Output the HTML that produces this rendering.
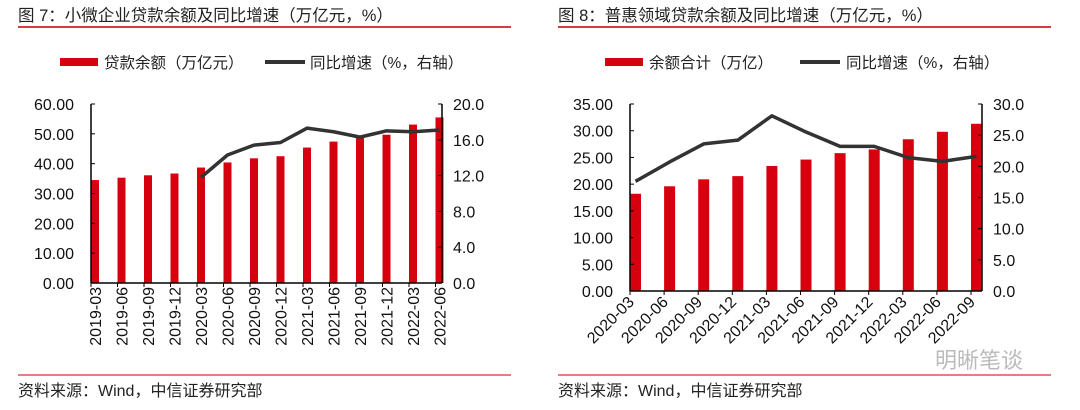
<!DOCTYPE html>
<html><head><meta charset="utf-8">
<style>
body{margin:0;background:#fff;}
svg{display:block;font-family:"Liberation Sans","Noto Sans CJK SC",sans-serif;}
</style></head>
<body>
<svg id="s" width="1080" height="410">
<g>
<text x="18" y="21" font-size="16.5" fill="#222">图 7：小微企业贷款余额及同比增速（万亿元，%）</text>
<line x1="18" y1="27" x2="511" y2="27" stroke="#c00000" stroke-width="1.5"/>
</g>
<g>
<rect x="60" y="58" width="38" height="8" fill="#d7000f"/>
<text x="104" y="68" font-size="15.5" fill="#222">贷款余额（万亿元）</text>
<line x1="265" y1="62" x2="305" y2="62" stroke="#333" stroke-width="4"/>
<text x="310" y="68" font-size="15.5" fill="#222">同比增速（%，右轴）</text>
</g>
<g>
<text x="558" y="21" font-size="16.5" fill="#222">图 8：普惠领域贷款余额及同比增速（万亿元，%）</text>
<line x1="558" y1="27" x2="1051" y2="27" stroke="#c00000" stroke-width="1.5"/>
</g>
<g>
<rect x="605" y="58" width="38" height="8" fill="#d7000f"/>
<text x="649" y="68" font-size="15.5" fill="#222">余额合计（万亿）</text>
<line x1="800" y1="62" x2="840" y2="62" stroke="#333" stroke-width="4"/>
<text x="846" y="68" font-size="15.5" fill="#222">同比增速（%，右轴）</text>
</g>
<g>
<line x1="18" y1="375" x2="511" y2="375" stroke="#c00000" stroke-width="1"/>
<text x="18" y="396" font-size="16" fill="#222">资料来源：Wind，中信证券研究部</text>
<line x1="558" y1="375" x2="1051" y2="375" stroke="#c00000" stroke-width="1"/>
<text x="558" y="396" font-size="16" fill="#222">资料来源：Wind，中信证券研究部</text>
<text x="935" y="368" font-size="22" fill="#bbb">明晰笔谈</text>
</g>
<g id="c1"></g>
<g id="c2"></g>
</svg>
<script>
const cats1=["2019-03","2019-06","2019-09","2019-12","2020-03","2020-06","2020-09","2020-12","2021-03","2021-06","2021-09","2021-12","2022-03","2022-06"];
const bars1=[34.5,35.3,36.1,36.7,38.7,40.4,41.8,42.5,45.4,47.4,48.6,49.7,53.1,55.5];
const line1=[null,null,null,null,11.8,14.3,15.4,15.7,17.3,16.9,16.3,17.0,16.9,17.1];
const leftTicks1=["0.00","10.00","20.00","30.00","40.00","50.00","60.00"];
const rightTicks1=["0.0","4.0","8.0","12.0","16.0","20.0"];
const cats2=["2020-03","2020-06","2020-09","2020-12","2021-03","2021-06","2021-09","2021-12","2022-03","2022-06","2022-09"];
const bars2=[18.2,19.6,20.9,21.5,23.4,24.6,25.8,26.5,28.4,29.8,31.3];
const line2=[17.6,20.7,23.6,24.2,28.1,25.5,23.2,23.2,21.4,20.8,21.6];
const leftTicks2=["0.00","5.00","10.00","15.00","20.00","25.00","30.00","35.00"];
const rightTicks2=["0.0","5.0","10.0","15.0","20.0","25.0","30.0"];
const NS="http://www.w3.org/2000/svg";
function mk(g,t,a){const e=document.createElementNS(NS,t);for(const k in a)e.setAttribute(k,a[k]);g.appendChild(e);return e;}
function draw(g,o){
 const {cats,bars,line,lt,rt,L,R,T,B,lmax,rmax,step,bw,rot}=o;
 const y=v=>B-(v/lmax)*(B-T), yr=v=>B-(v/rmax)*(B-T), xt=i=>L+i*step;
 bars.forEach((v,i)=>{const r=mk(g,'rect',{x:xt(i),y:y(v),width:bw,height:B-y(v),fill:'#d7000f'});
  
  });
 mk(g,'line',{x1:L,y1:T,x2:L,y2:B,stroke:'#000','stroke-width':1.5});
 mk(g,'line',{x1:R,y1:T,x2:R,y2:B,stroke:'#000','stroke-width':1.5});
 mk(g,'line',{x1:L,y1:B,x2:R,y2:B,stroke:'#000','stroke-width':1.5});
 lt.forEach((t,i)=>{const v=i*lmax/(lt.length-1);
  mk(g,'line',{x1:L,y1:y(v),x2:L+4,y2:y(v),stroke:'#000'});
  const e=mk(g,'text',{x:L-17,y:y(v)+6,'font-size':16,'text-anchor':'end',fill:'#111'});e.textContent=t;
  
  });
 rt.forEach((t,i)=>{const v=i*rmax/(rt.length-1);
  mk(g,'line',{x1:R-4,y1:yr(v),x2:R,y2:yr(v),stroke:'#000'});
  const e=mk(g,'text',{x:R+11,y:yr(v)+6,'font-size':16,fill:'#111'});e.textContent=t;
  
  });
 cats.forEach((c,i)=>{mk(g,'line',{x1:xt(i),y1:B,x2:xt(i),y2:B+4,stroke:'#000'});
  const cx=xt(i)+bw/2;let e;
  if(rot==90){e=mk(g,'text',{x:cx+6,y:B+4,'font-size':16,'text-anchor':'end',fill:'#111',transform:`rotate(-90 ${cx+6} ${B+4})`});}
  else{const ax=xt(i)+5,ay=B+12;e=mk(g,'text',{x:ax,y:ay,'font-size':16,'text-anchor':'end',fill:'#111',transform:`rotate(-45 ${ax} ${ay})`});}
  e.textContent=c;
  
  });
 const pts=[];line.forEach((v,i)=>{if(v!=null)pts.push((xt(i)+bw/2)+','+yr(v));});
 const p=mk(g,'polyline',{points:pts.join(' '),fill:'none',stroke:'#333','stroke-width':3.5,'stroke-linejoin':'round'});
 
 
}
draw(document.getElementById('c1'),{cats:cats1,bars:bars1,line:line1,lt:leftTicks1,rt:rightTicks1,L:91,R:442,T:104,B:283,lmax:60,rmax:20,step:26.5,bw:8,rot:90});
draw(document.getElementById('c2'),{cats:cats2,bars:bars2,line:line2,lt:leftTicks2,rt:rightTicks2,L:630,R:982,T:104,B:291,lmax:35,rmax:30,step:34.1,bw:11,rot:45});
</script>
</body></html>
